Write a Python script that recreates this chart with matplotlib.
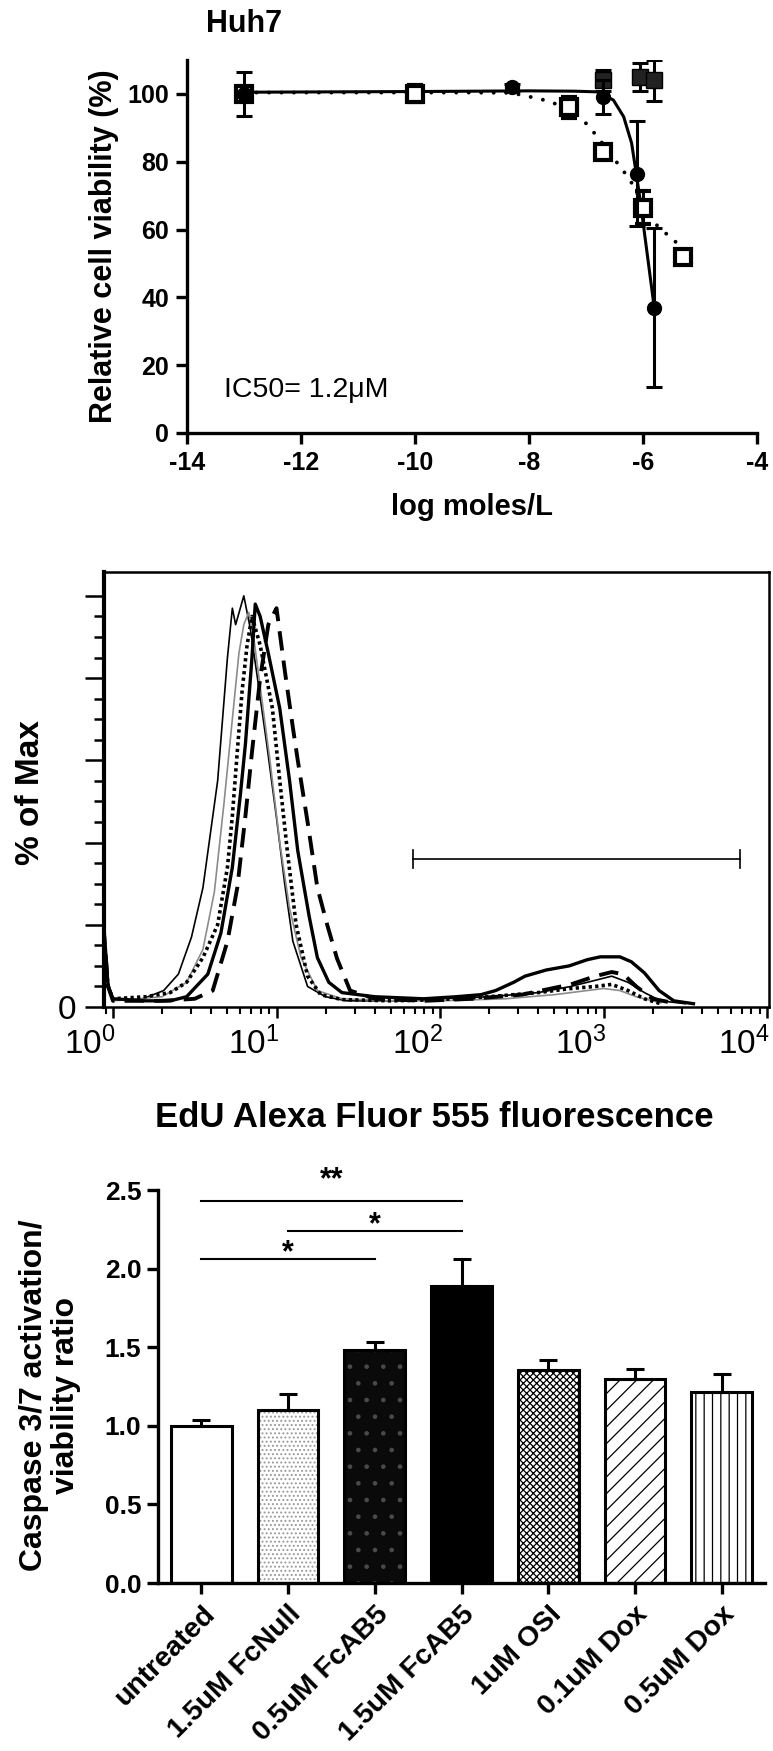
import numpy as np
import matplotlib.pyplot as plt
from matplotlib.ticker import FixedLocator, FixedFormatter, NullFormatter
from matplotlib.transforms import ScaledTranslation

plt.rcParams['font.family'] = ['Liberation Sans', 'DejaVu Sans']
plt.rcParams['mathtext.default'] = 'regular'
plt.rcParams['axes.unicode_minus'] = False
plt.rcParams['hatch.linewidth'] = 0.9

# ---------- top panel: Huh7 viability ----------
circ_x = [-13, -8.3, -6.7, -6.1, -5.8]
circ_y = [100, 102, 99, 76.5, 37]
circ_err = [6.5, 1, 5, 15.5, 23.5]
sq_x = [-13, -10, -7.3, -6.7, -6.0, -5.3]
sq_y = [100, 100, 96, 83, 66.5, 52]
sq_err = [2, 2.5, 3, 2, 5, 2]
blk_x = [-6.7, -6.05, -5.8]
blk_y = [104, 105, 104]
blk_err = [3, 4, 6]
fit1_x = [-13, -10, -8, -7.2, -6.8, -6.52, -6.34, -6.2, -6.12, -6.05, -5.8]
fit1_y = [100.5, 100.7, 100.9, 100.8, 100.6, 98.2, 93.3, 85.5, 76.7, 68.7, 36.6]
fit2_x = [-13, -9, -8.3, -8.0, -7.8, -7.6, -7.3, -7.05, -6.8, -6.65, -6.45,
          -6.3, -6.15, -6.0, -5.8, -5.65, -5.45, -5.3]
fit2_y = [100.4, 100.4, 100.3, 99.2, 98.5, 97.5, 95.5, 92.3, 87.4, 84, 79.6,
          76.3, 72.5, 67, 62, 59.5, 57, 52.5]

# ---------- middle panel: EdU histograms (log10 of fluorescence, % of max) ----------
h1_lx = [-0.06, -0.03, 0.0, 0.15, 0.31, 0.40, 0.48, 0.55, 0.64, 0.70, 0.73, 0.75, 0.80,
         0.84, 0.88, 0.94, 1.0, 1.05, 1.1, 1.19, 1.3, 1.43, 1.7, 2.0, 2.3, 2.6, 2.8,
         2.95, 3.05, 3.15, 3.25, 3.35, 3.5]
h1_y = [22, 6, 2, 1.5, 4, 8, 17, 29, 55, 85, 97, 93, 100, 92, 81, 64, 46, 30, 16, 5,
        2.5, 1.5, 1.5, 2, 2.5, 3.5, 5, 6.5, 7.5, 6, 3.5, 1.5, 0.8]
h2_lx = [-0.06, -0.03, 0.0, 0.2, 0.35, 0.45, 0.58, 0.66, 0.73, 0.78, 0.81, 0.85, 0.87,
         0.9, 0.95, 1.02, 1.08, 1.13, 1.2, 1.25, 1.32, 1.4, 1.6, 1.9, 2.1, 2.25, 2.34,
         2.45, 2.52, 2.65, 2.79, 2.9, 2.98, 3.1, 3.17, 3.25, 3.34, 3.43, 3.55]
h2_y = [22, 5, 2, 1.5, 1.5, 2.5, 8, 18, 34, 52, 64, 85, 98, 95, 86, 72.6, 55, 38, 22,
        12, 6, 3.5, 2.5, 2, 2.5, 3, 4, 6, 7.5, 9, 10, 11.5, 12.2, 12.2, 11, 8.3, 4, 1.5, 0.8]
h3_lx = [-0.06, -0.03, 0.0, 0.3, 0.5, 0.61, 0.70, 0.76, 0.81, 0.85, 0.9, 0.95, 1.0,
         1.05, 1.1, 1.13, 1.19, 1.25, 1.31, 1.37, 1.45, 1.6, 1.9, 2.2, 2.5, 2.8, 2.95,
         3.05, 3.12, 3.2, 3.3, 3.45]
h3_y = [20, 5, 1.5, 1.5, 2, 4, 16, 29, 46.5, 62, 80, 93, 97, 82, 68, 60, 45, 29, 20,
        11.8, 4, 2, 1.5, 2, 3, 5.5, 7.5, 8.5, 8, 5, 2, 0.8]
h4_lx = [-0.06, -0.03, 0.0, 0.2, 0.35, 0.45, 0.55, 0.64, 0.7, 0.73, 0.76, 0.79, 0.82,
         0.85, 0.9, 0.975, 1.02, 1.066, 1.12, 1.19, 1.27, 1.4, 1.7, 2.0, 2.3, 2.6, 2.8,
         2.95, 3.05, 3.15, 3.25, 3.35]
h4_y = [18, 5, 2, 2.5, 3.5, 6, 12, 20, 34, 46.5, 62, 77, 88, 95, 88, 72.6, 55, 38, 20,
        7.5, 3, 1.8, 1.5, 1.8, 2.5, 3.5, 4.5, 5, 5.5, 4, 2, 0.8]
h5_lx = [-0.06, -0.03, 0.0, 0.3, 0.45, 0.55, 0.62, 0.68, 0.73, 0.77, 0.8, 0.83, 0.86,
         0.9, 0.96, 1.02, 1.08, 1.15, 1.25, 1.4, 1.7, 2.0, 2.4, 2.7, 2.9, 3.0, 3.1, 3.2, 3.35]
h5_y = [15, 5, 1.5, 2.5, 6, 14, 28, 50, 70, 86, 93, 96, 90, 78, 60, 40, 24, 12, 4, 2,
        1.5, 1.5, 2, 3, 4, 4.5, 4, 2.5, 1]
gate_lo, gate_hi, gate_y = 68, 6830, 36

# ---------- bottom panel: caspase 3/7 ----------
groups = ['untreated', '1.5uM FcNull', '0.5uM FcAB5', '1.5uM FcAB5',
          '1uM OSI', '0.1uM Dox', '0.5uM Dox']
ratio = [1.0, 1.1, 1.48, 1.89, 1.355, 1.30, 1.215]
ratio_err = [0.04, 0.10, 0.055, 0.17, 0.065, 0.06, 0.115]
sig_from = [0, 1, 0]
sig_to = [3, 3, 2]
sig_y = [2.43, 2.24, 2.06]
sig_txt = ['**', '*', '*']

W, H = 773, 1751


def box(l, t, r, b):
    return [l / W, 1 - b / H, (r - l) / W, (b - t) / H]


fig = plt.figure(figsize=(W / 100, H / 100), dpi=100)

# ================= top =================
ax1 = fig.add_axes(box(187, 60, 757, 433))
ax1.plot(fit1_x, fit1_y, color='k', lw=2.2, zorder=2)
ax1.plot(fit2_x, fit2_y, color='k', lw=2.8, linestyle=(0, (0.01, 3.2)),
         dash_capstyle='round', zorder=2)
ax1.errorbar(blk_x, blk_y, yerr=blk_err, fmt='s', ms=12, color='k', mfc='#222222',
             ecolor='k', elinewidth=2.2, capsize=6, capthick=2.2, zorder=3)
ax1.errorbar(sq_x, sq_y, yerr=sq_err, fmt='s', ms=11, mfc='white', mec='k', mew=3,
             ecolor='k', elinewidth=2.2, capsize=6, capthick=2.2, zorder=4)
ax1.errorbar(circ_x, circ_y, yerr=circ_err, fmt='o', ms=10, color='k',
             ecolor='k', elinewidth=2.2, capsize=6, capthick=2.2, zorder=5)
ax1.set_xlim(-14, -4)
ax1.set_ylim(0, 110)
ax1.set_xticks(range(-14, -3, 2))
ax1.set_yticks(range(0, 101, 20))
for s in ['top', 'right']:
    ax1.spines[s].set_visible(False)
for s in ['left', 'bottom']:
    ax1.spines[s].set_linewidth(2.4)
ax1.tick_params(direction='out', length=8, width=2.4, labelsize=18, pad=5)
for lab in ax1.get_xticklabels() + ax1.get_yticklabels():
    lab.set_fontweight('bold')
ax1.set_ylabel('Relative cell viability (%)', fontsize=22, fontweight='bold')
ax1.yaxis.set_label_coords(-0.146, 0.5)
ax1.yaxis.label.set_va('center')
ax1.set_xlabel('log moles/L', fontsize=21, fontweight='bold')
ax1.xaxis.set_label_coords(0.5, -0.198)
ax1.xaxis.label.set_va('center')
ax1.text(0.1, 1.097, 'Huh7', transform=ax1.transAxes, fontsize=22,
         fontweight='bold', ha='center', va='center')
ax1.text(-13.35, 12.7, 'IC50= 1.2\u03bcM', fontsize=20.5, va='center', ha='left')

# ================= middle =================
ax2 = fig.add_axes(box(104, 572, 769, 1007))
curves = [(h1_lx, h1_y, dict(color='k', lw=1.2)),
          (h5_lx, h5_y, dict(color='#8c8c8c', lw=1.2)),
          (h4_lx, h4_y, dict(color='k', lw=2.6, linestyle=(0, (0.9, 0.9)))),
          (h2_lx, h2_y, dict(color='k', lw=2.4)),
          (h3_lx, h3_y, dict(color='k', lw=2.8, linestyle=(0, (5, 2.6))))]
for lx, yy, st in curves:
    ax2.plot(10 ** np.array(lx), yy, **st)
ax2.plot([gate_lo, gate_hi], [gate_y, gate_y], color='k', lw=1.2)
ax2.plot([gate_lo, gate_lo], [gate_y - 2.2, gate_y + 2.2], color='k', lw=1.2)
ax2.plot([gate_hi, gate_hi], [gate_y - 2.2, gate_y + 2.2], color='k', lw=1.2)
ax2.set_xscale('log')
ax2.set_xlim(10 ** -0.055, 10 ** 4.012)
ax2.set_ylim(0, 105.8)
ax2.xaxis.set_major_locator(FixedLocator([1, 10, 100, 1000, 10000]))
ax2.xaxis.set_major_formatter(FixedFormatter(['$10^{0}$', '$10^{1}$', '$10^{2}$',
                                              '$10^{3}$', '$10^{4}$']))
minor = [m * 10 ** e for e in range(-1, 4) for m in range(2, 10)]
ax2.xaxis.set_minor_locator(FixedLocator(minor))
ax2.xaxis.set_minor_formatter(NullFormatter())
ax2.yaxis.set_major_locator(FixedLocator([0, 20, 40, 60, 80, 100]))
ax2.yaxis.set_major_formatter(FixedFormatter(['0', '', '', '', '', '']))
ax2.yaxis.set_minor_locator(FixedLocator(list(range(5, 105, 5))))
ax2.spines['left'].set_linewidth(3)
for s in ['top', 'right', 'bottom']:
    ax2.spines[s].set_linewidth(1.8)
ax2.tick_params(axis='y', which='major', direction='out', length=14, width=1.8,
                labelsize=24, pad=6)
ax2.tick_params(axis='y', which='minor', direction='out', length=7, width=1.8)
ax2.tick_params(axis='x', which='major', direction='out', length=8, width=1.8,
                labelsize=24, pad=6)
ax2.tick_params(axis='x', which='minor', direction='out', length=5, width=1.5)
# decade labels sit mostly left of their tick, as in the original
shift = ScaledTranslation(3 / 100, 0, fig.dpi_scale_trans)
for lab in ax2.get_xticklabels():
    lab.set_horizontalalignment('right')
    lab.set_transform(lab.get_transform() + shift)
ax2.set_ylabel('% of Max', fontsize=24, fontweight='bold')
ax2.yaxis.set_label_coords(-0.111, 0.494)
ax2.yaxis.label.set_va('center')
ax2.set_xlabel('EdU Alexa Fluor 555 fluorescence', fontsize=25, fontweight='bold')
ax2.xaxis.set_label_coords(0.496, -0.253)
ax2.xaxis.label.set_va('center')

# ================= bottom =================
ax3 = fig.add_axes(box(158, 1190, 765, 1583))
xpos = np.arange(len(groups))
bw = 0.70
face = ['white', 'white', '#0a0a0a', 'black', 'white', 'white', 'white']
hatches = [None, '....', '.', None, 'xxxxx', '//', '||']
hcol = ['k', '#9a9a9a', '#4a4a4a', 'k', 'k', 'k', 'k']
for i in range(len(groups)):
    ax3.bar(xpos[i], ratio[i], width=bw, color=face[i], hatch=hatches[i],
            edgecolor=hcol[i], linewidth=0, zorder=2)
ax3.bar(xpos, ratio, width=bw, fill=False, edgecolor='k', linewidth=2.2, zorder=3)
ax3.errorbar(xpos, ratio, yerr=[np.zeros(len(ratio)), ratio_err], fmt='none',
             ecolor='k', elinewidth=2.2, capsize=6.5, capthick=2.2, zorder=4)
for a, b, y, t in zip(sig_from, sig_to, sig_y, sig_txt):
    ax3.plot([xpos[a], xpos[b]], [y, y], color='k', lw=1.5, clip_on=False)
    off = 0.13 if t == '**' else 0.035
    ax3.text((xpos[a] + xpos[b]) / 2, y + off, t, ha='center', va='center',
             fontsize=22, fontweight='bold', clip_on=False)
ax3.set_xlim(-0.5, 6.5)
ax3.set_ylim(0, 2.5)
ax3.set_yticks(np.arange(0, 2.51, 0.5))
ax3.set_yticklabels(['%.1f' % v for v in np.arange(0, 2.51, 0.5)])
ax3.set_xticks(xpos)
ax3.set_xticklabels(groups, rotation=45, ha='right', va='top', rotation_mode='anchor')
for s in ['top', 'right']:
    ax3.spines[s].set_visible(False)
for s in ['left', 'bottom']:
    ax3.spines[s].set_linewidth(2.4)
ax3.tick_params(direction='out', length=8, width=2.4, pad=4)
ax3.tick_params(axis='y', labelsize=19)
ax3.tick_params(axis='x', labelsize=20.5, pad=5)
for lab in ax3.get_xticklabels() + ax3.get_yticklabels():
    lab.set_fontweight('bold')
ax3.set_ylabel('Caspase 3/7 activation/\nviability ratio', fontsize=23,
               fontweight='bold', linespacing=1.05)
ax3.yaxis.set_label_coords(-0.178, 0.478)
ax3.yaxis.label.set_va('center')

fig.savefig('out.png', dpi=100)
